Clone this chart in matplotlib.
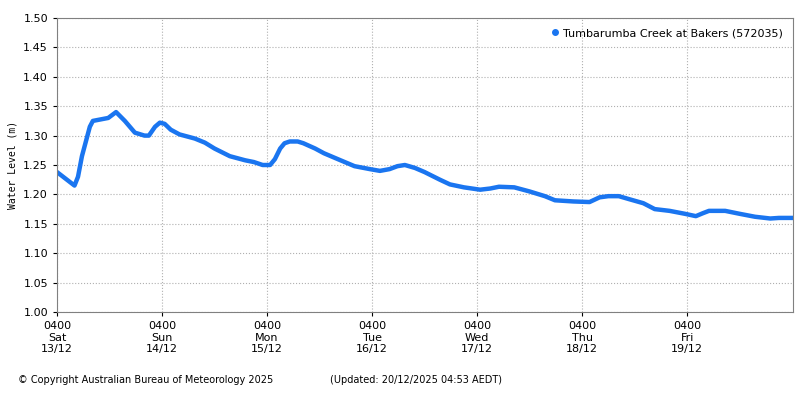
import matplotlib
matplotlib.use("Agg")
import matplotlib.pyplot as plt

hours = [0,4,4.8,5.7,6.6,7.5,8.2,11.7,12.6,13.5,15.5,17.8,20,21,22.4,23.5,24.6,26,28,31.5,33.8,36,39.5,43,45,47,48.7,49.8,51,52,53.2,55,56.3,59,61,64.8,68,71.5,73.8,76,77.8,79.5,81.8,84,87.5,89.8,93,96.7,99,101,104.5,108,111.5,113.8,118,121.7,124,126,128.4,130.7,134,136.6,140,143.5,146,147.6,149,152.7,156,159.5,163,165,168.2]
level = [1.238,1.215,1.23,1.265,1.29,1.315,1.325,1.330,1.335,1.340,1.325,1.305,1.300,1.300,1.315,1.322,1.320,1.310,1.302,1.295,1.288,1.278,1.265,1.258,1.255,1.250,1.250,1.260,1.278,1.287,1.290,1.290,1.287,1.278,1.270,1.258,1.248,1.243,1.240,1.243,1.248,1.250,1.245,1.238,1.225,1.217,1.212,1.208,1.210,1.213,1.212,1.205,1.197,1.190,1.188,1.187,1.195,1.197,1.197,1.192,1.185,1.175,1.172,1.167,1.163,1.168,1.172,1.172,1.167,1.162,1.159,1.160,1.160]
tick_labels = ["0400\nSat\n13/12","0400\nSun\n14/12","0400\nMon\n15/12","0400\nTue\n16/12","0400\nWed\n17/12","0400\nThu\n18/12","0400\nFri\n19/12"]
series_name = "Tumbarumba Creek at Bakers (572035)"

col = "#1a75f0"
fig = plt.figure(figsize=(8, 4), dpi=100)
ax = fig.add_axes([57/800, 88/400, 736/800, 294/400])
ax.plot(hours, level, color=col, lw=3.2, solid_capstyle="round")
ax.plot([], [], "o", color=col, ms=4, label=series_name)
ax.set_xlim(0, 168.2)
ax.set_ylim(1.0, 1.5)
ax.set_xticks([24*i for i in range(7)])
ax.set_xticklabels(tick_labels, fontsize=8)
ax.set_yticks([1.0 + 0.05*i for i in range(11)])
ax.set_yticklabels([f"{1.0+0.05*i:.2f}" for i in range(11)], fontsize=8)
ax.grid(True, color="#b0b0b0", ls=":", lw=0.8)
ax.set_ylabel("Water Level (m)", fontsize=7, family="DejaVu Sans Mono")
for s in ax.spines.values():
    s.set_color("#808080")
ax.tick_params(colors="black", length=3)
leg = ax.legend(loc="upper right", frameon=False, fontsize=8, handletextpad=0.2, handlelength=1)
fig.text(18/800, 1-380/400, "© Copyright Australian Bureau of Meteorology 2025", fontsize=7, va="center")
fig.text(330/800, 1-380/400, "(Updated: 20/12/2025 04:53 AEDT)", fontsize=7, va="center")
fig.savefig("out.png", dpi=100)
